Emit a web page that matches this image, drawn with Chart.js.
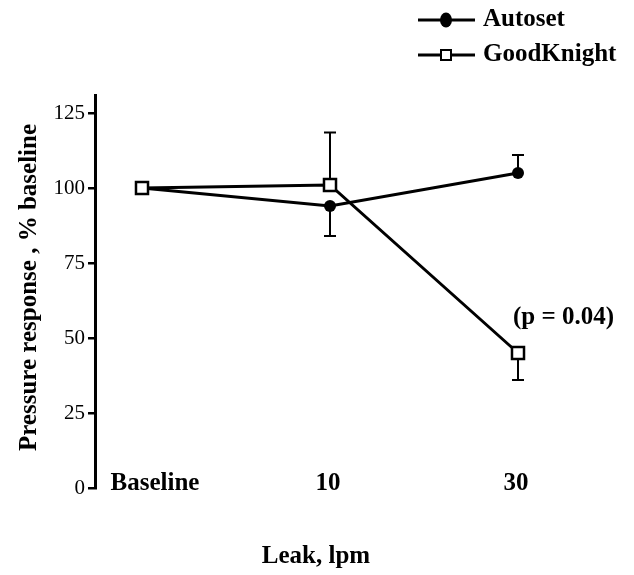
<!DOCTYPE html>
<html>
<head>
<meta charset="utf-8">
<script src="https://cdn.jsdelivr.net/npm/chart.js@4.4.1/dist/chart.umd.min.js"></script>
<style>
  html, body { margin: 0; padding: 0; background: #fff; }
  #wrap { width: 634px; height: 575px; position: relative; }
</style>
</head>
<body>
<div id="wrap"><canvas id="chart"></canvas></div>
<script>
// data
const categories = ['Baseline', '10', '30']
const autoset = [100, 94, 105]
const autosetErrUp = [0, 0, 6]
const autosetErrDown = [0, 10, 0]
const goodKnight = [100, 101, 45]
const goodKnightErrUp = [0, 17.5, 0]
const goodKnightErrDown = [0, 0, 9]
const yTicks = [0, 25, 50, 75, 100, 125]
const pNote = '(p = 0.04)'

const SERIF = "'Liberation Serif', 'Times New Roman', serif"
const BOLD = `bold 25px ${SERIF}`

const toPoints = (arr) => arr.map((y, i) => ({ x: i, y }))

// ── error bars, labels, legend ─────────────────────────────────────────────
const extras = {
  id: 'extras',
  beforeDatasetsDraw(chart) {
    const { ctx, scales: { x, y } } = chart
    const bars = [
      [autoset, autosetErrUp, autosetErrDown],
      [goodKnight, goodKnightErrUp, goodKnightErrDown],
    ]
    ctx.save()
    ctx.strokeStyle = '#000'
    ctx.lineWidth = 2
    bars.forEach(([vals, up, down]) => {
      vals.forEach((v, i) => {
        const px = x.getPixelForValue(i)
        const ends = []
        if (up[i]) ends.push(v + up[i])
        if (down[i]) ends.push(v - down[i])
        ends.forEach((e) => {
          const py = y.getPixelForValue(e)
          ctx.beginPath()
          ctx.moveTo(px, y.getPixelForValue(v))
          ctx.lineTo(px, py)
          ctx.moveTo(px - 6, py)
          ctx.lineTo(px + 6, py)
          ctx.stroke()
        })
      })
    })
    ctx.restore()
  },
  afterDraw(chart) {
    const { ctx, scales: { x, y }, chartArea } = chart
    ctx.save()
    ctx.fillStyle = '#000'
    ctx.font = BOLD
    ctx.textBaseline = 'middle'
    ctx.textAlign = 'center'

    // category labels sit level with the bottom of the axis
    categories.forEach((c, i) => {
      const shift = i === 0 ? 13 : -2
      ctx.fillText(c, x.getPixelForValue(i) + shift, chartArea.bottom - 4)
    })

    // axis titles
    ctx.fillText('Leak, lpm', 316, 557)
    ctx.save()
    ctx.translate(30, (chartArea.top + chartArea.bottom) / 2 - 4)
    ctx.rotate(-Math.PI / 2)
    ctx.fillText('Pressure response , % baseline', 0, 0)
    ctx.restore()

    // p-value note above the GoodKnight point at 30
    ctx.textAlign = 'left'
    ctx.fillText(pNote, x.getPixelForValue(2) - 5, y.getPixelForValue(goodKnight[2]) - 35)

    // legend
    const rows = [
      { label: 'Autoset', y: 20, style: 'circle' },
      { label: 'GoodKnight', y: 55, style: 'rect' },
    ]
    rows.forEach((r) => {
      ctx.strokeStyle = '#000'
      ctx.lineWidth = 3
      ctx.beginPath()
      ctx.moveTo(418, r.y)
      ctx.lineTo(475, r.y)
      ctx.stroke()
      if (r.style === 'circle') {
        ctx.beginPath()
        ctx.ellipse(446, r.y, 6, 7.5, 0, 0, Math.PI * 2)
        ctx.fill()
      } else {
        ctx.fillStyle = '#fff'
        ctx.lineWidth = 2
        ctx.fillRect(441, r.y - 5, 10, 10)
        ctx.strokeRect(441, r.y - 5, 10, 10)
        ctx.fillStyle = '#000'
      }
      ctx.fillText(r.label, 483, r.y)
    })
    ctx.restore()
  },
}

new Chart(document.getElementById('chart'), {
  type: 'line',
  data: {
    datasets: [
      {
        label: 'Autoset',
        data: toPoints(autoset),
        borderColor: '#000',
        backgroundColor: '#000',
        borderWidth: 3,
        pointStyle: 'circle',
        pointRadius: 6,
        pointBorderWidth: 0,
        pointBackgroundColor: '#000',
        order: 2,
      },
      {
        label: 'GoodKnight',
        data: toPoints(goodKnight),
        borderColor: '#000',
        backgroundColor: '#fff',
        borderWidth: 3,
        pointStyle: 'rect',
        pointRadius: 8.5,
        pointBorderWidth: 2.5,
        pointBorderColor: '#000',
        pointBackgroundColor: '#fff',
        order: 1,
      },
    ],
  },
  options: {
    responsive: true,
    maintainAspectRatio: false,
    animation: false,
    events: [],
    layout: { padding: { top: 95, right: 69, bottom: 87, left: 0 } },
    plugins: { legend: { display: false }, tooltip: { enabled: false } },
    scales: {
      x: {
        type: 'linear',
        min: -0.25,
        max: 2.25,
        display: false,
      },
      y: {
        min: 0,
        max: 131,
        afterFit: (s) => { s.width = 95 },
        afterBuildTicks: (s) => { s.ticks = yTicks.map((v) => ({ value: v })) },
        border: { display: true, color: '#000', width: 3 },
        grid: {
          drawOnChartArea: false,
          drawTicks: true,
          tickLength: 7,
          color: '#000',
          lineWidth: 2.5,
        },
        ticks: {
          color: '#000',
          padding: 3,
          font: { family: SERIF, size: 21 },
        },
      },
    },
  },
  plugins: [extras],
})
</script>
</body>
</html>
